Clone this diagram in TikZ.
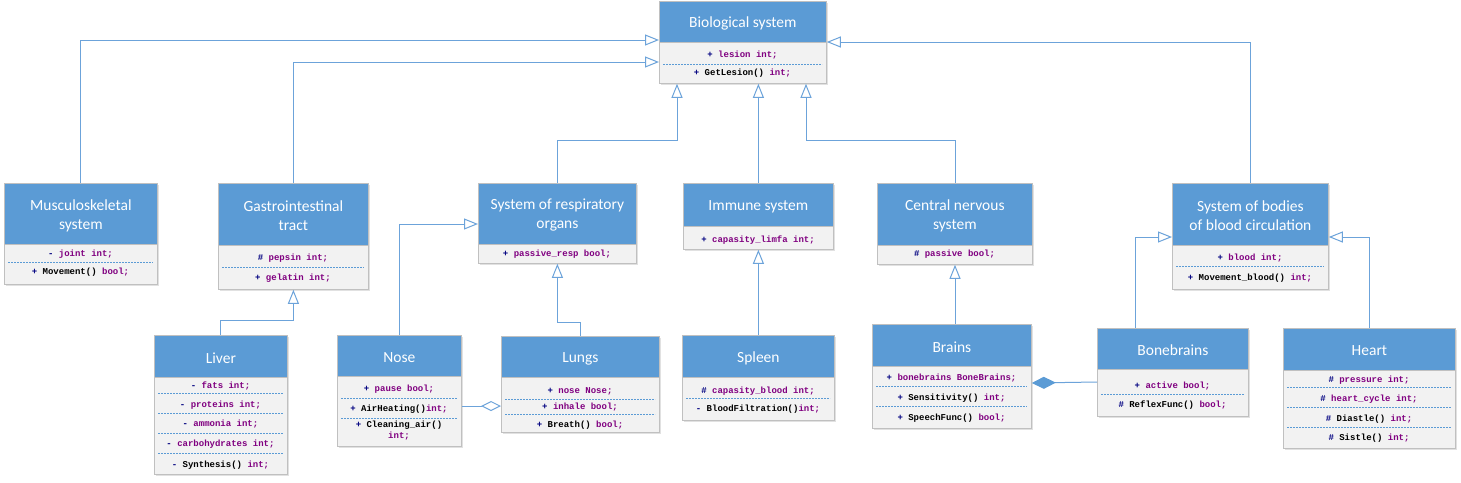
\documentclass[tikz,border=0pt]{standalone}
\usepackage{fontspec}
\setmainfont{Carlito}
\newfontfamily\memfont{Liberation Mono}[Scale=1]
\usetikzlibrary{arrows.meta}
\definecolor{hdrblue}{RGB}{91,155,213}
\definecolor{bodygray}{RGB}{242,242,242}
\definecolor{boxgray}{RGB}{192,192,192}
\definecolor{lineblue}{RGB}{108,163,218}
\definecolor{sepblue}{RGB}{91,155,213}
\definecolor{visnavy}{RGB}{0,0,128}
\definecolor{attpurple}{RGB}{128,0,128}
\definecolor{shadowc}{RGB}{225,225,225}
\newcommand\cv[1]{\textcolor{visnavy}{#1}}
\newcommand\ca[1]{\textcolor{attpurple}{#1}}
\newcommand\cmeth[1]{\textcolor{black}{#1}}
\tikzset{
  hdr/.style={draw=boxgray, line width=0.8pt, fill=hdrblue, inner sep=0pt, anchor=north west},
  hdrtext/.style={text=white, font=\fontsize{15.5}{19}\selectfont, inner sep=0pt, align=center, yshift=-1.5pt},
  bdy/.style={draw=boxgray, line width=0.8pt, fill=bodygray, anchor=north west, inner sep=0pt},
  mem/.style={font=\memfont\bfseries\fontsize{9}{11}\selectfont, inner sep=0pt, text height=6pt, text depth=2pt},
  sepline/.style={draw=sepblue, line width=0.8pt, dash pattern=on 2pt off 1pt},
  conn/.style={draw=lineblue, line width=1pt},
  gen/.style={conn, -{Triangle[open, fill=white, length=14pt, width=11pt]}},
}
% name, x1, x2, ytop, ymid, ybot, title
\newcommand\umlcls[7]{%
  \fill[shadowc] (#2+2,#4+2) rectangle (#3+2,#6+2);
  \node[hdr, minimum width={(#3-#2)*1pt}, minimum height={(#5-#4)*1pt},
        label={[hdrtext]center:{#7}}] (#1) at (#2,#4) {};
  \node[bdy, minimum width={(#3-#2)*1pt}, minimum height={(#6-#5)*1pt}] (#1-b) at (#2,#5) {};
}
\newcommand\sepl[3]{\draw[sepline] (#1+4,#3) -- (#2-4,#3);}
\begin{document}
\begin{tikzpicture}[x=1pt,y=-1pt]
\fill[white] (0,0) rectangle (1461,482);
\useasboundingbox (0,0) rectangle (1461,482);

% ---------- classes ----------
\umlcls{bio}{659}{826}{1}{42}{83}{Biological system}
\node[mem] (bio-1) at (742.5,55) {\cv{+} \ca{lesion int;}};
\sepl{659}{826}{64}
\node[mem] (bio-2) at (742.5,73) {\cv{+} \cmeth{GetLesion()} \ca{int;}};

\umlcls{mus}{4}{157}{183}{244}{284}{Musculoskeletal\\system}
\node[mem] (mus-1) at (80.5,254) {\cv{-} \ca{joint int;}};
\sepl{4}{157}{262}
\node[mem] (mus-2) at (80.5,272) {\cv{+} \cmeth{Movement()} \ca{bool;}};

\umlcls{gas}{218}{368}{183}{245}{289}{Gastrointestinal\\tract}
\node[mem] (gas-1) at (293,258) {\cv{\#} \ca{pepsin int;}};
\sepl{218}{368}{267}
\node[mem] (gas-2) at (293,278) {\cv{+} \ca{gelatin int;}};

\umlcls{res}{478}{636}{183}{244}{263}{System of respiratory\\organs}
\node[mem] (res-1) at (557,254) {\cv{+} \ca{passive\_resp bool;}};

\umlcls{imm}{683}{833}{183}{226}{249}{Immune system}
\node[mem] (imm-1) at (758,240) {\cv{+} \ca{capasity\_limfa int;}};

\umlcls{cns}{877}{1032}{183}{245}{264}{Central nervous\\system}
\node[mem] (cns-1) at (954.5,254) {\cv{\#} \ca{passive bool;}};

\umlcls{bld}{1172}{1328}{183}{245}{289}{System of bodies\\of blood circulation}
\node[mem] (bld-1) at (1250,258) {\cv{+} \ca{blood int;}};
\sepl{1172}{1328}{266}
\node[mem] (bld-2) at (1250,278) {\cv{+} \cmeth{Movement\_blood()} \ca{int;}};

\umlcls{liv}{154}{287}{335}{377}{474}{Liver}
\node[mem] (liv-1) at (220.5,386) {\cv{-} \ca{fats int;}};
\sepl{154}{287}{393}
\node[mem] (liv-2) at (220.5,405) {\cv{-} \ca{proteins int;}};
\sepl{154}{287}{413}
\node[mem] (liv-3) at (220.5,424) {\cv{-} \ca{ammonia int;}};
\sepl{154}{287}{433}
\node[mem] (liv-4) at (220.5,444) {\cv{-} \ca{carbohydrates int;}};
\sepl{154}{287}{453}
\node[mem] (liv-5) at (220.5,465) {\cv{-} \cmeth{Synthesis()} \ca{int;}};

\umlcls{nose}{337}{461}{335}{376}{446}{Nose}
\node[mem] (nose-1) at (399,389) {\cv{+} \ca{pause bool;}};
\sepl{337}{461}{398}
\node[mem] (nose-2) at (399,409) {\cv{+} \cmeth{AirHeating()}\ca{int;}};
\sepl{337}{461}{418}
\node[mem] (nose-3) at (399,425) {\cv{+} \cmeth{Cleaning\_air()}};
\node[mem] (nose-4) at (399,436) {\ca{int;}};

\umlcls{lun}{501}{659}{336}{377}{432}{Lungs}
\node[mem] (lun-1) at (580,391) {\cv{+} \ca{nose Nose;}};
\sepl{501}{659}{399}
\node[mem] (lun-2) at (580,407) {\cv{+} \ca{inhale bool;}};
\sepl{501}{659}{414}
\node[mem] (lun-3) at (580,425) {\cv{+} \cmeth{Breath()} \ca{bool;}};

\umlcls{spl}{682}{834}{335}{377}{420}{Spleen}
\node[mem] (spl-1) at (758,391) {\cv{\#} \ca{capasity\_blood int;}};
\sepl{682}{834}{398}
\node[mem] (spl-2) at (758,409) {\cv{-} \cmeth{BloodFiltration()}\ca{int;}};

\umlcls{bra}{872}{1031}{324}{366}{428}{Brains}
\node[mem] (bra-1) at (951.5,378) {\cv{+} \ca{bonebrains BoneBrains;}};
\sepl{872}{1031}{386}
\node[mem] (bra-2) at (951.5,398) {\cv{+} \cmeth{Sensitivity()} \ca{int;}};
\sepl{872}{1031}{406}
\node[mem] (bra-3) at (951.5,418) {\cv{+} \cmeth{SpeechFunc()} \ca{bool;}};

\umlcls{bon}{1097}{1248}{328}{369}{416}{Bonebrains}
\node[mem] (bon-1) at (1172.5,386) {\cv{+} \ca{active bool;}};
\sepl{1097}{1248}{394}
\node[mem] (bon-2) at (1172.5,405) {\cv{\#} \cmeth{ReflexFunc()} \ca{bool;}};

\umlcls{hea}{1283}{1455}{328}{370}{448}{Heart}
\node[mem] (hea-1) at (1369,380) {\cv{\#} \ca{pressure int;}};
\sepl{1283}{1455}{387}
\node[mem] (hea-2) at (1369,399) {\cv{\#} \ca{heart\_cycle int;}};
\sepl{1283}{1455}{407}
\node[mem] (hea-3) at (1369,419) {\cv{\#} \cmeth{Diastle()} \ca{int;}};
\sepl{1283}{1455}{427}
\node[mem] (hea-4) at (1369,438) {\cv{\#} \cmeth{Sistle()} \ca{int;}};

% ---------- connectors ----------
\draw[gen] (mus.north) |- (bio.west |- 0,40);
\draw[gen] (gas.north) |- (bio-b.west |- 0,62);
\draw[gen] (res.north) |- (677,140) -- (bio-b.south -| 677,0);
\draw[gen] (imm.north) -- (bio-b.south -| imm.north);
\draw[gen] (cns.north -| 955,0) |- (806,140) -- (bio-b.south -| 806,0);
\draw[gen] (bld.north) |- (bio.east |- 0,42);

\draw[gen] (liv.north) |- (gas-b.south |- 0,320) -- (gas-b.south);
\draw[gen] (nose.north) |- (res.west |- 0,224);
\draw[gen] (lun.north) |- (res-b.south |- 0,322) -- (res-b.south);
\draw[gen] (spl.north) -- (imm-b.south -| spl.north);
\draw[gen] (bra.north -| 955,0) -- (cns-b.south -| 955,0);
\draw[gen] (bon.north -| 1135,0) |- (bld.west |- 0,237);
\draw[gen] (hea.north) |- (bld.east |- 0,237);

\draw[conn, {Diamond[open, fill=white, length=20pt, width=10pt]}-] (lun-b.west |- 0,406) -- (nose-b.east |- 0,406);
\draw[conn, {Diamond[fill=hdrblue, color=hdrblue, length=24pt, width=12pt]}-] (bra-b.east |- 0,383) -- (bon-b.west |- 0,382);
\end{tikzpicture}
\end{document}
